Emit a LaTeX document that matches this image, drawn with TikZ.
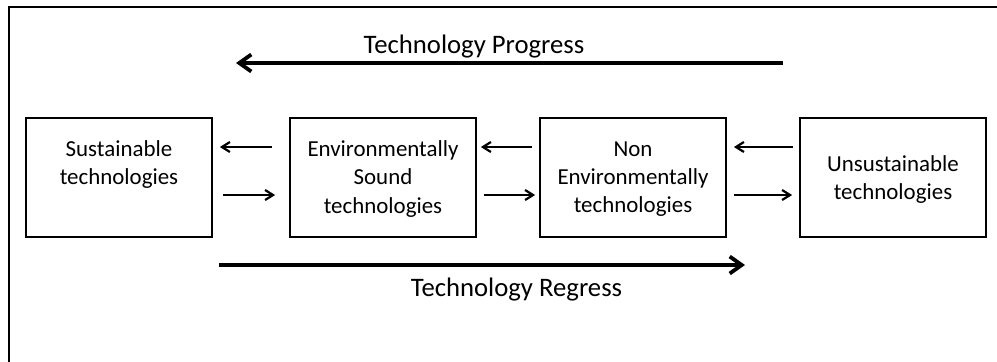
\documentclass[tikz,border=0pt]{standalone}
\usepackage{fontspec}
\setmainfont{Carlito}
\usetikzlibrary{arrows.meta,calc}
\begin{document}
\begin{tikzpicture}[x=1bp,y=-1bp,
  box/.style={draw,line width=1.7bp,minimum width=186bp,minimum height=119bp,
    inner sep=0pt},
  boxtext/.style={inner sep=0pt,align=center,font=\fontsize{23}{28.3}\selectfont},
  thin arrow/.style={line width=2bp,
    -{Straight Barb[length=8bp,width=10bp,line width=2.2bp]}},
  thick arrow/.style={line width=3.6bp,
    -{Straight Barb[length=12bp,width=17bp,line width=3.8bp]}},
  caption/.style={font=\fontsize{26.8}{32}\selectfont,anchor=base,inner sep=0pt}
]
\useasboundingbox (0,0) rectangle (997,361);
\clip (0,0) rectangle (997,361);

% outer frame (continues past the right and bottom edges)
\draw[line width=1.7bp] (1010,7) -- (9,7) -- (9,375);

% the four technology classes
\node[box] (sus) at (119,177.5) {};
\node[box] (ens) at (383,177.5) {};
\node[box] (nen) at (633,177.5) {};
\node[box] (uns) at (893,177.5) {};
\node[boxtext] (sus-t) at ($(sus.center)+(0,-13)$) {Sustainable\\technologies};
\node[boxtext] (ens-t) at ($(ens.center)+(0,1.5)$) {Environmentally\\Sound\\technologies};
\node[boxtext] (nen-t) at ($(nen.center)+(0,1.5)$) {Non\\Environmentally\\technologies};
\node[boxtext] (uns-t) at ($(uns.center)+(0,2)$) {Unsustainable\\technologies};

% two-way transitions between neighbouring classes
\draw[thin arrow] ($(ens.west)+(-17,-30.5)$) -- ($(sus.east)+(7,-30.5)$);
\draw[thin arrow] ($(sus.east)+(10,17.5)$) -- ($(ens.west)+(-14,17.5)$);
\draw[thin arrow] ($(nen.west)+(-7,-30.5)$) -- ($(ens.east)+(4,-30.5)$);
\draw[thin arrow] ($(ens.east)+(7,17.5)$) -- ($(nen.west)+(-4,17.5)$);
\draw[thin arrow] ($(uns.west)+(-6,-30.5)$) -- ($(nen.east)+(7,-30.5)$);
\draw[thin arrow] ($(nen.east)+(7,17.5)$) -- ($(uns.west)+(-7,17.5)$);

% overall direction of progress and regress
\coordinate (pstart) at (783,63);
\coordinate (pend) at (236,63);
\draw[thick arrow] (pstart) -- (pend);
\node[caption] (prog) at (474,53) {Technology Progress};

\coordinate (rstart) at (219,265);
\coordinate (rend) at (745,265);
\draw[thick arrow] (rstart) -- (rend);
\node[caption] (regr) at (516.5,296) {Technology Regress};
\end{tikzpicture}
\end{document}
